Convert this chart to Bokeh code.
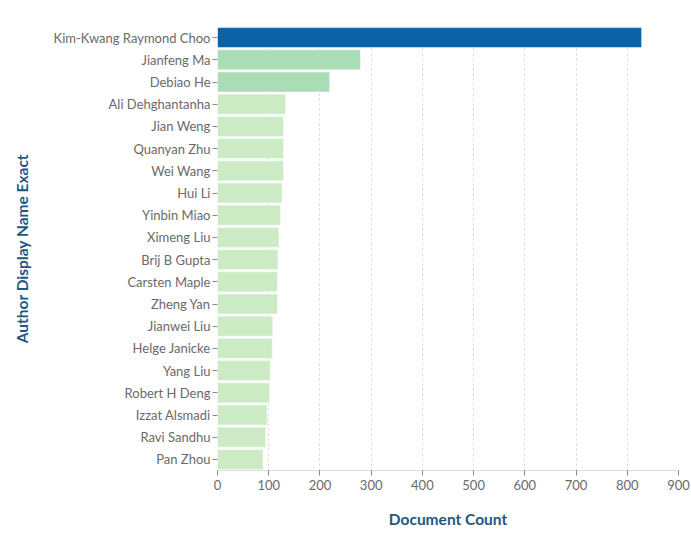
from bokeh.plotting import figure
from bokeh.models import ColumnDataSource, FactorRange, Range1d, LinearColorMapper, SingleIntervalTicker
from bokeh.transform import transform
from bokeh.embed import file_html
from bokeh.resources import INLINE

authors = ["Kim-Kwang Raymond Choo", "Jianfeng Ma", "Debiao He", "Ali Dehghantanha",
           "Jian Weng", "Quanyan Zhu", "Wei Wang", "Hui Li", "Yinbin Miao", "Ximeng Liu",
           "Brij B Gupta", "Carsten Maple", "Zheng Yan", "Jianwei Liu", "Helge Janicke",
           "Yang Liu", "Robert H Deng", "Izzat Alsmadi", "Ravi Sandhu", "Pan Zhou"]
counts = [828, 279, 219, 133, 129, 129, 129, 126, 123, 120,
          118, 117, 117, 108, 107, 103, 102, 97, 94, 89]
palette = ["#ccebc5", "#a8ddb5", "#7bccc4", "#4eb3d3", "#2b8cbe", "#0b62a6"]

FONT = "Lato"
TITLE_COLOR = "#1f5780"
LABEL_COLOR = "#6a6a6a"

src = ColumnDataSource(dict(author=authors, count=counts))
mapper = LinearColorMapper(palette=palette, low=0, high=850)

p = figure(width=691, height=537, output_backend="svg", toolbar_location=None,
           y_range=FactorRange(factors=list(reversed(authors))),
           x_range=Range1d(0, 900),
           min_border_left=217, min_border_right=13, min_border_top=26, min_border_bottom=67)
p.outline_line_color = None
p.background_fill_color = "white"
p.border_fill_color = "white"

p.hbar(y="author", right="count", left=0, height=0.9, source=src,
       fill_color=transform("count", mapper), line_color="white", line_width=0.5)

p.xaxis.ticker = SingleIntervalTicker(interval=100)
p.ygrid.grid_line_color = None
p.xgrid.grid_line_color = "#d4d4d4"
p.xgrid.grid_line_dash = "2 3"
p.xgrid.grid_line_width = 1

for ax in (p.xaxis, p.yaxis):
    ax.major_label_text_font = FONT
    ax.major_label_text_font_size = "13px"
    ax.major_label_text_color = LABEL_COLOR
    ax.axis_label_text_font = FONT
    ax.axis_label_text_font_size = "15.5px"
    ax.axis_label_text_font_style = "bold"
    ax.axis_label_text_color = TITLE_COLOR
    ax.major_tick_line_color = "#888888"
    ax.minor_tick_line_color = None
    ax.major_tick_in = 0
    ax.major_tick_out = 5

p.xaxis.axis_label = "Document Count"
p.yaxis.axis_label = "Author Display Name Exact"
p.xaxis.axis_line_color = "#dddddd"
p.yaxis.axis_line_color = None
p.xaxis.major_label_standoff = 4
p.yaxis.major_label_standoff = 2
p.xaxis.axis_label_standoff = 17
p.yaxis.axis_label_standoff = 20

open("out.html", "w").write(file_html(p, INLINE))
